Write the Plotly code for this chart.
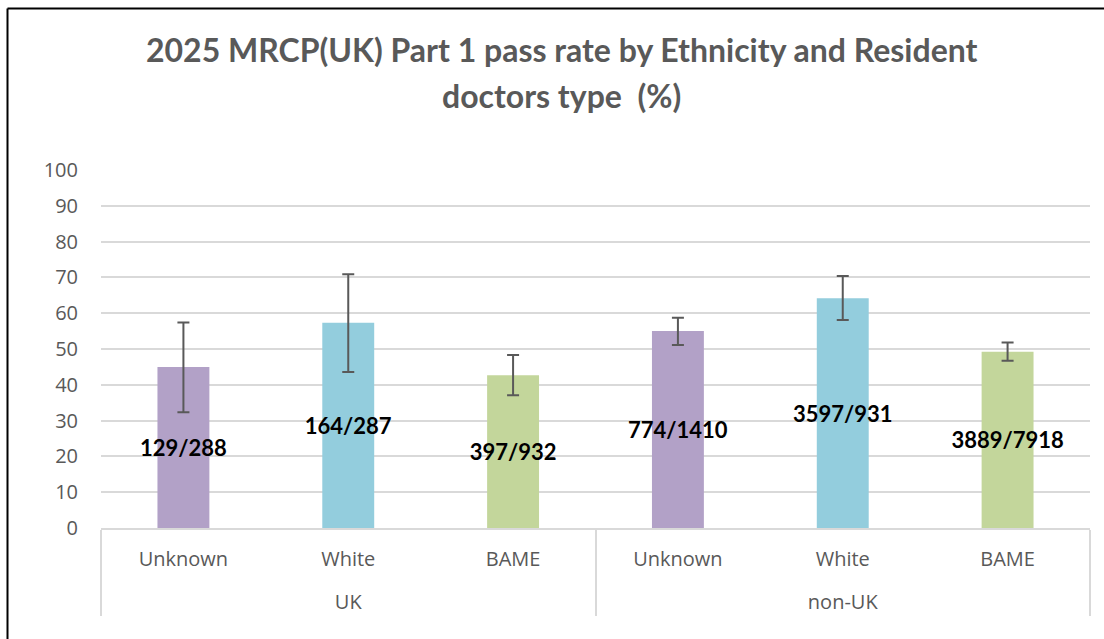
import plotly.graph_objects as go

# ---- data ----
groups = ["UK", "UK", "UK", "non-UK", "non-UK", "non-UK"]
ethnicity = ["Unknown", "White", "BAME", "Unknown", "White", "BAME"]
pass_rate = [45.0, 57.3, 42.7, 55.0, 64.2, 49.2]
err_plus = [12.4, 13.6, 5.6, 3.7, 6.2, 2.6]
err_minus = [12.7, 13.7, 5.6, 3.9, 6.1, 2.5]
labels = ["129/288", "164/287", "397/932", "774/1410", "3597/931", "3889/7918"]
colors = ["#B2A1C7", "#93CDDD", "#C3D69B", "#B2A1C7", "#93CDDD", "#C3D69B"]
title_lines = ["2025 MRCP(UK) Part 1 pass rate by Ethnicity and Resident",
               "doctors type  (%)"]
y_ticks = list(range(0, 101, 10))

W, H = 1104, 639
L, R, T, B = 101, 14, 170, 111
ph = H - T - B

fig = go.Figure()
fig.add_trace(go.Bar(
    x=[["<br>" + g for g in groups], ethnicity],
    y=pass_rate,
    marker=dict(color=colors, line=dict(width=0)),
    width=0.315,
    error_y=dict(type="data", symmetric=False, array=err_plus, arrayminus=err_minus,
                 color="#595959", thickness=2, width=6),
    text=labels,
    textposition="inside",
    insidetextanchor="middle",
    textangle=0,
    constraintext="none",
    textfont=dict(family="Lato", size=22, color="black", weight="bold"),
    hoverinfo="skip",
))

gray = "#595959"
fig.update_layout(
    width=W, height=H,
    margin=dict(l=L, r=R, t=T, b=B),
    paper_bgcolor="white", plot_bgcolor="white",
    showlegend=False,
    bargap=0.685,
    yaxis=dict(range=[0, 100], tickvals=y_ticks, showgrid=True, gridcolor="#D9D9D9",
               gridwidth=1.5, zeroline=False, showline=False,
               tickfont=dict(family="Open Sans", size=20, color=gray),
               ticklabelstandoff=22),
    xaxis=dict(type="multicategory", showline=True, linecolor="#D9D9D9", linewidth=1.5,
               showdividers=True, dividercolor="#D9D9D9", dividerwidth=1.5,
               tickfont=dict(family="Open Sans", size=20, color=gray),
               ticklabelstandoff=12,
               ticks="", showgrid=False),
)

for txt, ypx in zip(title_lines, [50, 96]):
    fig.add_annotation(text=txt, xref="paper", yref="paper",
                       x=(561.5 - L) / (W - L - R), y=(H - B - ypx) / ph,
                       xanchor="center", yanchor="middle", showarrow=False,
                       font=dict(family="Lato", size=32, color=gray, weight="bold"))

# outer chart frame (left and top edges visible)
fx = (7.5 - L) / (W - L - R)
fy = (H - B - 8.5) / ph
fig.add_shape(type="line", xref="paper", yref="paper",
              x0=fx, x1=fx, y0=fy, y1=-1, line=dict(color="black", width=2))
fig.add_shape(type="line", xref="paper", yref="paper",
              x0=fx, x1=1.2, y0=fy, y1=fy, line=dict(color="black", width=2))

fig.write_html("out.html", config={"displayModeBar": False},
               post_script="document.body.style.margin='0';")
